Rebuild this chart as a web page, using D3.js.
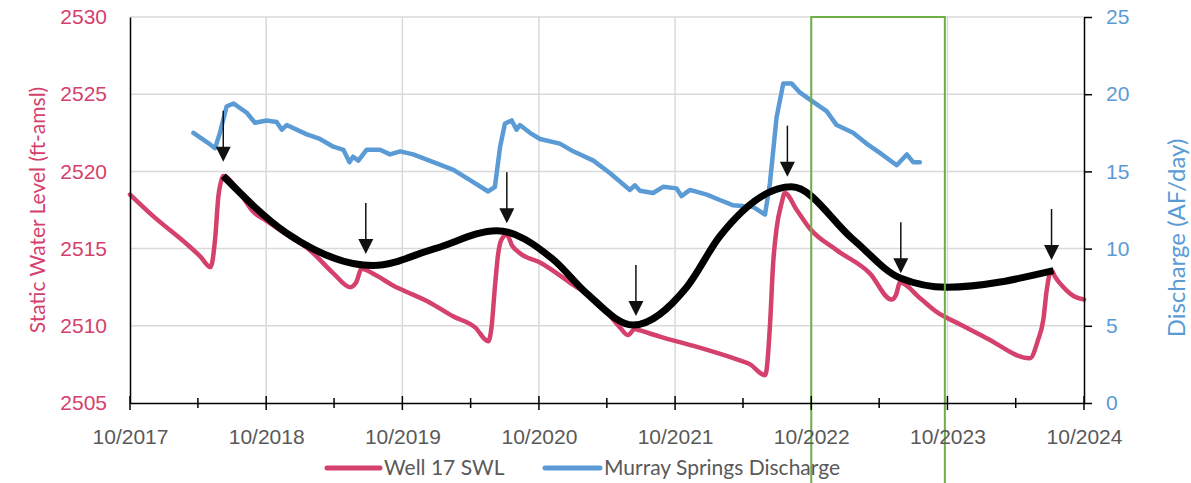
<!DOCTYPE html>
<html>
<head>
<meta charset="utf-8">
<script src="https://cdn.jsdelivr.net/npm/d3@7"></script>
<style>
body { margin: 0; background: #fff; }
svg { font-family: Lato, "Open Sans", sans-serif; }
</style>
</head>
<body>
<svg id="chart"></svg>
<script>
// Well 17 static water level (ft-amsl)
var wellDates = ["2017-10-01","2017-12-02","2018-03-02","2018-04-07","2018-05-05","2018-05-17","2018-05-26","2018-06-04","2018-06-08",
    "2018-07-23","2018-08-27","2018-10-02","2018-11-25","2019-01-26","2019-03-30","2019-05-14","2019-05-30","2019-06-14","2019-07-20",
    "2019-09-07","2019-10-03","2019-12-14","2020-02-15","2020-04-13","2020-05-18","2020-05-27","2020-06-05","2020-06-14","2020-06-23",
    "2020-07-07","2020-07-21","2020-08-11","2020-10-04","2020-12-23","2021-03-14","2021-05-06","2021-05-28","2021-06-15","2021-06-29",
    "2021-08-21","2021-11-19","2022-03-06","2022-04-20","2022-05-30","2022-06-03","2022-06-12","2022-06-21","2022-06-30","2022-07-14",
    "2022-07-22","2022-08-23","2022-09-27","2022-12-08","2023-03-07","2023-05-04","2023-05-16","2023-05-27","2023-07-19","2023-09-02",
    "2023-11-03","2024-01-14","2024-05-09","2024-05-31","2024-06-14","2024-06-23","2024-07-06","2024-07-15","2024-08-15","2024-09-05","2024-10-01"]
var wellLevels = [2518.5,2517.1,2515.3,2514.5,2513.8,2515.6,2518.4,2519.5,2519.7,
    2518.6,2517.4,2516.8,2515.9,2514.9,2513.4,2512.5,2512.8,2513.7,2513.3,
    2512.6,2512.3,2511.5,2510.6,2509.9,2509.0,2509.9,2512.5,2514.7,2515.6,
    2515.9,2515.2,2514.7,2514.1,2512.8,2511.4,2509.9,2509.4,2509.8,2509.7,
    2509.3,2508.7,2507.9,2507.5,2506.8,2507.1,2509.9,2514.1,2516.3,2518.0,
    2518.6,2517.5,2516.3,2514.9,2513.4,2511.7,2512.0,2512.8,2511.8,2510.9,
    2510.1,2509.2,2507.9,2509.1,2510.4,2512.3,2513.6,2513.2,2512.3,2511.9,2511.7]

// Murray Springs discharge (AF/day)
var springDates = ["2018-03-20","2018-04-25","2018-05-17","2018-05-30","2018-06-17","2018-07-05","2018-08-10","2018-09-01","2018-10-02",
    "2018-10-29","2018-11-12","2018-11-25","2019-01-18","2019-02-22","2019-03-30","2019-04-26","2019-05-12","2019-05-22","2019-06-05",
    "2019-06-27","2019-08-02","2019-08-29","2019-09-25","2019-10-30","2019-12-23","2020-02-15","2020-04-08","2020-05-18","2020-06-05",
    "2020-06-19","2020-07-02","2020-07-20","2020-08-02","2020-08-11","2020-09-07","2020-10-04","2020-11-26","2021-01-01","2021-02-24",
    "2021-04-09","2021-06-02","2021-06-15","2021-06-29","2021-08-03","2021-08-30","2021-10-05","2021-10-18","2021-11-10","2021-12-25",
    "2022-01-29","2022-03-06","2022-04-28","2022-05-30","2022-06-12","2022-06-30","2022-07-18","2022-08-09","2022-09-01","2022-10-06",
    "2022-11-11","2022-12-08","2023-01-21","2023-02-26","2023-04-03","2023-05-18","2023-06-14","2023-07-01","2023-07-19"]
var springFlow = [17.5,16.9,16.5,17.5,19.2,19.4,18.8,18.15,18.3,
    18.2,17.7,18.0,17.4,17.1,16.6,16.4,15.6,15.95,15.7,
    16.4,16.4,16.1,16.3,16.1,15.6,15.1,14.3,13.7,14.0,
    16.6,18.1,18.3,17.7,18.0,17.5,17.1,16.8,16.3,15.7,
    14.9,13.8,14.1,13.75,13.6,14.0,13.9,13.4,13.8,13.5,
    13.15,12.8,12.7,12.2,14.2,18.5,20.7,20.7,20.1,19.5,
    18.9,18.0,17.5,16.8,16.2,15.4,16.1,15.6,15.6]

// hand drawn trend through the seasonal peaks (ft-amsl)
var trendDates = ["2018-06-08","2018-11-25","2019-07-15","2019-12-27","2020-06-10","2020-11-08","2021-02-06","2021-06-11",
    "2021-11-01","2022-01-29","2022-08-09","2023-01-21","2023-05-27","2023-09-29","2024-07-11"]
var trendLevels = [2519.7,2516.0,2513.9,2515.0,2516.16,2514.3,2512.1,2510.05,
    2512.5,2515.8,2519.0,2515.6,2513.1,2512.5,2513.57]

// arrows marking each peak (tip position)
var arrowDates = ["2018-06-08","2019-06-25","2020-07-07","2021-06-18","2022-07-29","2023-05-29","2024-07-06"]
var arrowLevels = [2520.63,2514.65,2516.64,2510.63,2519.66,2513.4,2514.26]

var boxDates = ["2022-10-01","2023-09-24"]
var yearTicks = [2017,2018,2019,2020,2021,2022,2023,2024]
var leftTicks = [2505,2510,2515,2520,2525,2530]
var rightTicks = [0,5,10,15,20,25]

var parse = d3.timeParse("%Y-%m-%d")
var well = wellDates.map((d,i) => ({date: parse(d), v: wellLevels[i]}))
var spring = springDates.map((d,i) => ({date: parse(d), v: springFlow[i]}))
var trend = trendDates.map((d,i) => ({date: parse(d), v: trendLevels[i]}))
var arrows = arrowDates.map((d,i) => ({date: parse(d), v: arrowLevels[i]}))

var dimensions = {
    width: 1191,
    height: 483,
    margin: { top: 17, bottom: 80, left: 130, right: 107 }
}

var pink = "#d4416c"
var blue = "#5b9bd5"
var grey = "#595959"

var svg = d3.select("#chart")
    .attr("width", dimensions.width)
    .attr("height", dimensions.height)

var x0 = dimensions.margin.left
var x1 = dimensions.width - dimensions.margin.right
var yBottom = dimensions.height - dimensions.margin.bottom
var yTop = dimensions.margin.top

var xScale = d3.scaleTime()
    .domain([parse("2017-10-01"), parse("2024-10-01")])
    .range([x0, x1])
var yLeft = d3.scaleLinear().domain([2505, 2530]).range([yBottom, yTop])
var yRight = d3.scaleLinear().domain([0, 25]).range([yBottom, yTop])

var majorTicks = yearTicks.map(y => new Date(y, 9, 1))
var minorTicks = yearTicks.slice(1).map(y => new Date(y, 3, 1))

// gridlines
svg.append("g").selectAll("line")
    .data(leftTicks.slice(1))
    .join("line")
    .attr("x1", x0).attr("x2", x1)
    .attr("y1", d => yLeft(d)).attr("y2", d => yLeft(d))
    .attr("stroke", "#d9d9d9").attr("stroke-width", 1.5)

svg.append("g").selectAll("line")
    .data(majorTicks.slice(1, -1))
    .join("line")
    .attr("x1", d => xScale(d)).attr("x2", d => xScale(d))
    .attr("y1", yTop).attr("y2", yBottom)
    .attr("stroke", "#d9d9d9").attr("stroke-width", 1.5)

// series
var wellLine = d3.line().x(d => xScale(d.date)).y(d => yLeft(d.v)).curve(d3.curveMonotoneX)
var springLine = d3.line().x(d => xScale(d.date)).y(d => yRight(d.v))
var trendLine = d3.line().x(d => xScale(d.date)).y(d => yLeft(d.v)).curve(d3.curveMonotoneX)

svg.append("path")
    .datum(well)
    .attr("d", wellLine)
    .attr("fill", "none")
    .attr("stroke", pink)
    .attr("stroke-width", 4.5)
    .attr("stroke-linejoin", "round")
    .attr("stroke-linecap", "round")

svg.append("path")
    .datum(spring)
    .attr("d", springLine)
    .attr("fill", "none")
    .attr("stroke", blue)
    .attr("stroke-width", 4.5)
    .attr("stroke-linejoin", "round")
    .attr("stroke-linecap", "round")

svg.append("path")
    .datum(trend)
    .attr("d", trendLine)
    .attr("fill", "none")
    .attr("stroke", "#000")
    .attr("stroke-width", 7)

// green box
svg.append("rect")
    .attr("x", xScale(parse(boxDates[0])))
    .attr("y", yTop)
    .attr("width", xScale(parse(boxDates[1])) - xScale(parse(boxDates[0])))
    .attr("height", dimensions.height)
    .attr("fill", "none")
    .attr("stroke", "#70ad47")
    .attr("stroke-width", 2)

// arrows
var arrowG = svg.append("g").selectAll("g")
    .data(arrows)
    .join("g")
    .attr("transform", d => `translate(${xScale(d.date)},${yLeft(d.v)})`)
arrowG.append("line")
    .attr("x1", 0).attr("x2", 0)
    .attr("y1", -51).attr("y2", -12)
    .attr("stroke", "#111").attr("stroke-width", 1.5)
arrowG.append("path")
    .attr("d", "M-7.5,-15L7.5,-15L0,0Z")
    .attr("fill", "#111")

// axes
var leftAxis = svg.append("g")
    .attr("transform", `translate(${x0},0)`)
    .call(d3.axisLeft(yLeft).tickValues(leftTicks).tickSize(0).tickPadding(23).tickFormat(d3.format("d")))
leftAxis.select(".domain").attr("stroke", "#000").attr("stroke-width", 1.5)
leftAxis.selectAll("text").attr("fill", pink).style("font-size", "21px")

var rightAxis = svg.append("g")
    .attr("transform", `translate(${x1},0)`)
    .call(d3.axisRight(yRight).tickValues(rightTicks).tickSize(8).tickSizeOuter(0).tickPadding(14))
rightAxis.select(".domain").attr("stroke", "#000").attr("stroke-width", 1.5)
rightAxis.selectAll(".tick line").attr("stroke", "#000").attr("stroke-width", 1.5)
rightAxis.selectAll("text").attr("fill", blue).style("font-size", "21px")

var bottomAxis = svg.append("g")
    .attr("transform", `translate(0,${yBottom})`)
    .call(d3.axisBottom(xScale).tickValues(majorTicks).tickSize(0).tickPadding(26).tickFormat(d3.timeFormat("%m/%Y")))
bottomAxis.select(".domain").attr("stroke", "#000").attr("stroke-width", 1.5)
bottomAxis.selectAll("text").attr("fill", grey).style("font-size", "21px")

svg.append("g").selectAll("line")
    .data(majorTicks)
    .join("line")
    .attr("x1", d => xScale(d)).attr("x2", d => xScale(d))
    .attr("y1", yBottom - 7).attr("y2", yBottom + 7)
    .attr("stroke", "#000").attr("stroke-width", 1.5)
svg.append("g").selectAll("line")
    .data(minorTicks)
    .join("line")
    .attr("x1", d => xScale(d)).attr("x2", d => xScale(d))
    .attr("y1", yBottom - 5).attr("y2", yBottom + 5)
    .attr("stroke", "#000").attr("stroke-width", 1.5)

// axis titles
svg.append("text")
    .attr("transform", `translate(36,${(yTop + yBottom) / 2}) rotate(-90)`)
    .attr("text-anchor", "middle")
    .attr("dominant-baseline", "central")
    .attr("fill", pink)
    .style("font-size", "21px")
    .text("Static Water Level (ft-amsl)")

svg.append("text")
    .attr("transform", `translate(1175,${(yTop + yBottom) / 2 + 28}) rotate(-90)`)
    .attr("text-anchor", "middle")
    .attr("dominant-baseline", "central")
    .attr("fill", blue)
    .style("font-size", "24px")
    .text("Discharge (AF/day)")

// legend
var legend = svg.append("g").attr("transform", "translate(327,468)")
legend.append("line").attr("x1", 0).attr("x2", 53).attr("stroke", pink).attr("stroke-width", 5).attr("stroke-linecap", "round")
legend.append("text").attr("x", 57).attr("y", 7).attr("fill", grey).style("font-size", "21px").text("Well 17 SWL")
legend.append("line").attr("x1", 218).attr("x2", 273).attr("stroke", blue).attr("stroke-width", 5).attr("stroke-linecap", "round")
legend.append("text").attr("x", 277).attr("y", 7).attr("fill", grey).style("font-size", "21px").text("Murray Springs Discharge")
</script>
</body>
</html>
